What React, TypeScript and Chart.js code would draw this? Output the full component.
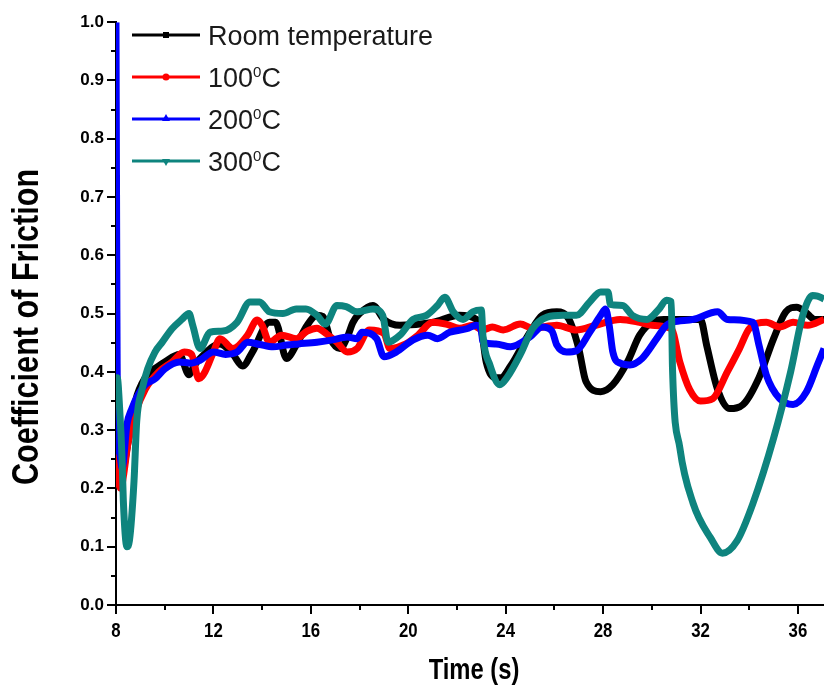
import React, { useEffect, useRef } from 'react';
import { Chart, registerables } from 'chart.js';

Chart.register(...registerables);

// ---------- Data ----------
const roomTime = [8.0, 8.05, 8.2, 8.5, 8.8, 9.2, 9.75, 10.0, 10.6, 11.0, 11.2, 11.45, 12.27, 12.8, 13.2, 13.6, 14.3, 14.55, 15.0, 15.4, 15.85, 16.25, 16.5, 16.8, 17.2, 17.5, 17.73, 18.0, 18.55, 19.0, 19.66, 21.0, 22.1, 22.8, 23.0, 23.2, 23.6, 23.8, 24.2, 25.0, 25.5, 26.1, 26.6, 27.0, 27.3, 27.9, 28.4, 29.0, 29.5, 30.0, 30.5, 31.5, 32.0, 32.25, 32.7, 33.2, 33.75, 34.4, 35.0, 35.5, 35.95, 36.3, 36.7, 37.07];
const roomCOF = [0.27, 0.25, 0.22, 0.28, 0.35, 0.39, 0.41, 0.417, 0.43, 0.395, 0.41, 0.423, 0.448, 0.43, 0.41, 0.434, 0.485, 0.485, 0.423, 0.446, 0.48, 0.497, 0.495, 0.457, 0.44, 0.46, 0.485, 0.5, 0.514, 0.49, 0.48, 0.485, 0.497, 0.49, 0.474, 0.417, 0.39, 0.39, 0.41, 0.468, 0.497, 0.503, 0.49, 0.44, 0.383, 0.366, 0.378, 0.417, 0.463, 0.485, 0.49, 0.49, 0.49, 0.446, 0.37, 0.337, 0.344, 0.39, 0.457, 0.503, 0.511, 0.503, 0.49, 0.49];

const t100Time = [8.0, 8.04, 8.1, 8.2, 8.3, 8.5, 8.8, 9.2, 9.75, 10.3, 10.8, 11.1, 11.4, 11.65, 12.0, 12.27, 12.8, 13.4, 13.8, 14.0, 14.3, 14.8, 15.4, 15.85, 16.25, 16.65, 17.07, 17.5, 17.9, 18.4, 19.0, 19.25, 19.9, 20.4, 21.0, 21.55, 22.1, 22.65, 23.05, 23.45, 23.9, 24.6, 25.1, 26.1, 26.9, 27.7, 28.7, 29.5, 30.0, 30.8, 31.15, 31.55, 32.0, 32.5, 33.1, 33.6, 34.0, 34.7, 35.25, 35.8, 36.4, 37.07];
const t100COF = [0.65, 0.25, 0.21, 0.2, 0.22, 0.28, 0.33, 0.37, 0.4, 0.417, 0.434, 0.43, 0.388, 0.4, 0.434, 0.457, 0.44, 0.463, 0.489, 0.48, 0.451, 0.463, 0.457, 0.47, 0.475, 0.465, 0.451, 0.434, 0.44, 0.472, 0.466, 0.44, 0.448, 0.463, 0.485, 0.482, 0.475, 0.48, 0.472, 0.477, 0.472, 0.482, 0.475, 0.48, 0.472, 0.48, 0.49, 0.485, 0.48, 0.474, 0.417, 0.37, 0.35, 0.354, 0.4, 0.44, 0.474, 0.485, 0.477, 0.485, 0.48, 0.49];

const t200Time = [8.0, 8.03, 8.06, 8.15, 8.25, 8.45, 8.65, 8.9, 9.2, 9.6, 10.0, 10.6, 11.1, 11.45, 12.0, 12.5, 12.97, 13.4, 13.9, 14.45, 15.0, 15.5, 16.25, 16.9, 17.5, 17.9, 18.1, 18.7, 19.0, 19.5, 20.2, 20.8, 21.2, 21.7, 22.4, 22.8, 23.0, 23.07, 23.6, 24.2, 25.0, 25.5, 25.9, 26.1, 26.5, 26.9, 27.45, 27.9, 28.1, 28.25, 28.4, 28.7, 29.1, 29.6, 30.2, 30.6, 30.85, 31.7, 32.7, 33.1, 34.15, 34.4, 34.7, 35.25, 35.8, 36.35, 36.8, 37.07];
const t200COF = [1.0, 0.6, 0.3, 0.26, 0.235, 0.31, 0.337, 0.36, 0.378, 0.388, 0.405, 0.417, 0.415, 0.42, 0.434, 0.43, 0.434, 0.451, 0.447, 0.443, 0.446, 0.448, 0.451, 0.455, 0.46, 0.457, 0.468, 0.457, 0.426, 0.434, 0.455, 0.463, 0.457, 0.468, 0.474, 0.48, 0.47, 0.451, 0.448, 0.443, 0.46, 0.477, 0.47, 0.446, 0.434, 0.436, 0.468, 0.497, 0.508, 0.48, 0.434, 0.415, 0.412, 0.423, 0.457, 0.48, 0.485, 0.49, 0.503, 0.49, 0.485, 0.446, 0.395, 0.354, 0.344, 0.366, 0.412, 0.44];

const t300Time = [8.0, 8.05, 8.15, 8.25, 8.3, 8.45, 8.55, 8.74, 8.85, 9.07, 9.3, 9.6, 9.9, 10.3, 10.7, 11.0, 11.15, 11.45, 11.86, 12.4, 12.97, 13.5, 13.9, 14.3, 14.85, 15.4, 15.8, 16.25, 16.6, 17.07, 17.45, 17.9, 18.55, 18.95, 19.17, 19.66, 20.2, 20.75, 21.2, 21.5, 21.85, 22.25, 22.65, 23.0, 23.07, 23.35, 23.76, 24.05, 24.6, 25.1, 25.7, 26.35, 26.9, 27.45, 27.9, 28.2, 28.3, 28.8, 29.2, 29.8, 30.3, 30.6, 30.8, 30.85, 31.15, 31.7, 32.4, 32.9, 33.5, 34.15, 35.0, 35.7, 36.2, 36.6, 36.8, 37.07];
const t300COF = [0.39, 0.39, 0.337, 0.25, 0.18, 0.1, 0.11, 0.213, 0.315, 0.37, 0.405, 0.434, 0.451, 0.474, 0.49, 0.5, 0.48, 0.44, 0.468, 0.47, 0.485, 0.52, 0.52, 0.503, 0.5, 0.508, 0.508, 0.497, 0.482, 0.514, 0.512, 0.503, 0.508, 0.497, 0.451, 0.463, 0.49, 0.497, 0.514, 0.528, 0.503, 0.49, 0.503, 0.506, 0.46, 0.412, 0.378, 0.39, 0.43, 0.474, 0.494, 0.497, 0.497, 0.52, 0.537, 0.537, 0.516, 0.514, 0.497, 0.49, 0.508, 0.523, 0.52, 0.405, 0.27, 0.174, 0.116, 0.089, 0.11, 0.174, 0.286, 0.4, 0.497, 0.531, 0.53, 0.525];

const seriesLabels = ['Room temperature', '100⁰C', '200⁰C', '300⁰C'];
const seriesColors = ['#000000', '#ff0000', '#0000ff', '#0e847e'];
const seriesMarkers = ['rect', 'circle', 'triangle', 'triangleDown'];
const seriesTimes = [roomTime, t100Time, t200Time, t300Time];
const seriesValues = [roomCOF, t100COF, t200COF, t300COF];

const xTitle = 'Time (s)';
const yTitle = 'Coefficient of Friction';
const xMin = 8;
const xMax = 37.07;
const xMajorStep = 4;
const xMinorStep = 2;
const yMin = 0;
const yMax = 1;
const yMajorStep = 0.1;
const yMinorStep = 0.05;

const SANS = "'Liberation Sans', Arial, sans-serif";

// draw text horizontally compressed (to mimic a narrow bold face)
function narrowText(ctx: CanvasRenderingContext2D, text: string, x: number, y: number, squeeze: number) {
  ctx.save();
  ctx.translate(x, y);
  ctx.scale(squeeze, 1);
  ctx.fillText(text, 0, 0);
  ctx.restore();
}

const decorPlugin = {
  id: 'decor',
  afterDraw(chart: any) {
    const ctx = chart.ctx;
    const xs = chart.scales.x;
    const ys = chart.scales.y;
    const area = chart.chartArea;
    ctx.save();
    ctx.strokeStyle = '#000';
    ctx.lineWidth = 2;
    // y ticks
    const ny = Math.round((yMax - yMin) / yMinorStep);
    for (let i = 0; i <= ny; i++) {
      const v = yMin + i * yMinorStep;
      const py = Math.round(ys.getPixelForValue(v));
      const len = i % 2 === 0 ? 9 : 5;
      ctx.beginPath();
      ctx.moveTo(area.left - len, py);
      ctx.lineTo(area.left, py);
      ctx.stroke();
    }
    // x ticks
    for (let t = xMin; t <= xMax + 1e-9; t += xMinorStep) {
      const px = Math.round(xs.getPixelForValue(t));
      const len = Math.round((t - xMin) / xMinorStep) % 2 === 0 ? 9 : 5;
      ctx.beginPath();
      ctx.moveTo(px, area.bottom);
      ctx.lineTo(px, area.bottom + len);
      ctx.stroke();
    }
    // x tick labels (narrow bold)
    ctx.fillStyle = '#000';
    ctx.font = `bold 21px ${SANS}`;
    ctx.textAlign = 'center';
    ctx.textBaseline = 'alphabetic';
    xs.ticks.forEach((tk: any) => {
      const px = xs.getPixelForValue(tk.value);
      narrowText(ctx, String(tk.value), px, area.bottom + 32, 0.8);
    });
    // axis titles
    ctx.font = `bold 29px ${SANS}`;
    narrowText(ctx, xTitle, 474, 679, 0.82);
    ctx.save();
    ctx.translate(38, 327);
    ctx.rotate(-Math.PI / 2);
    ctx.font = `bold 36px ${SANS}`;
    ctx.textAlign = 'center';
    ctx.scale(0.85, 1);
    ctx.fillText(yTitle, 0, 0);
    ctx.restore();

    // legend
    const rowY0 = 35;
    const rowGap = 42;
    chart.data.datasets.forEach((ds: any, i: number) => {
      const y = rowY0 + i * rowGap;
      ctx.strokeStyle = ds.borderColor;
      ctx.fillStyle = ds.borderColor;
      ctx.lineWidth = 3;
      ctx.beginPath();
      ctx.moveTo(132, y);
      ctx.lineTo(200, y);
      ctx.stroke();
      const mx = 166;
      const m = seriesMarkers[i];
      ctx.beginPath();
      if (m === 'rect') ctx.rect(mx - 3, y - 3, 6, 6);
      else if (m === 'circle') ctx.arc(mx, y, 3.5, 0, Math.PI * 2);
      else if (m === 'triangle') { ctx.moveTo(mx, y - 5); ctx.lineTo(mx + 4, y + 2); ctx.lineTo(mx - 4, y + 2); ctx.closePath(); }
      else { ctx.moveTo(mx, y + 5); ctx.lineTo(mx + 4, y - 2); ctx.lineTo(mx - 4, y - 2); ctx.closePath(); }
      ctx.fill();
      // text with superscript handling
      ctx.fillStyle = '#1a1a1a';
      ctx.textAlign = 'left';
      ctx.textBaseline = 'alphabetic';
      const label: string = ds.label;
      const parts = label.split('⁰');
      let x = 208;
      const base = y + 10;
      parts.forEach((p, k) => {
        ctx.font = `27px ${SANS}`;
        ctx.fillText(p, x, base);
        x += ctx.measureText(p).width;
        if (k < parts.length - 1) {
          ctx.font = `15px ${SANS}`;
          ctx.fillText('0', x, base - 10);
          x += ctx.measureText('0').width;
        }
      });
    });
    ctx.restore();
  },
};

export default function App() {
  const canvasRef = useRef<HTMLCanvasElement | null>(null);

  useEffect(() => {
    const canvas = canvasRef.current;
    if (!canvas) return;
    const datasets = seriesLabels.map((label, i) => ({
      label,
      data: seriesTimes[i].map((t, j) => ({ x: t, y: seriesValues[i][j] })),
      borderColor: seriesColors[i],
      backgroundColor: seriesColors[i],
      borderWidth: 7,
      pointRadius: 0,
      cubicInterpolationMode: 'monotone' as const,
      fill: false,
      order: seriesLabels.length - 1 - i,
    }));

    const chart = new Chart(canvas, {
      type: 'line',
      data: { datasets },
      options: {
        animation: false,
        responsive: false,
        devicePixelRatio: 1,
        layout: { padding: { top: 18, right: 0, left: 0, bottom: 0 } },
        plugins: {
          legend: { display: false },
          tooltip: { enabled: false },
        },
        scales: {
          x: {
            type: 'linear',
            min: xMin,
            max: xMax,
            afterFit: (s: any) => { s.height = 83; },
            grid: { display: true, drawOnChartArea: false, drawTicks: false },
            border: { display: true, color: '#000', width: 2 },
            ticks: {
              display: false,
              stepSize: xMajorStep,
              includeBounds: false,
              maxRotation: 0,
              autoSkip: false,
            },
          },
          y: {
            type: 'linear',
            min: yMin,
            max: yMax,
            afterFit: (s: any) => { s.width = 116; },
            grid: { display: true, drawOnChartArea: false, drawTicks: false },
            border: { display: true, color: '#000', width: 2 },
            ticks: {
              stepSize: yMajorStep,
              padding: 12,
              color: '#000',
              font: { family: SANS, weight: 'bold', size: 17 },
              callback: (v: any) => Number(v).toFixed(1),
            },
          },
        },
      },
      plugins: [decorPlugin],
    });
    return () => chart.destroy();
  }, []);

  return (
    <div style={{ position: 'fixed', left: 0, top: 0, width: 824, height: 688, background: '#fff' }}>
      <canvas ref={canvasRef} width={824} height={688} style={{ display: 'block', width: 824, height: 688 }} />
    </div>
  );
}
